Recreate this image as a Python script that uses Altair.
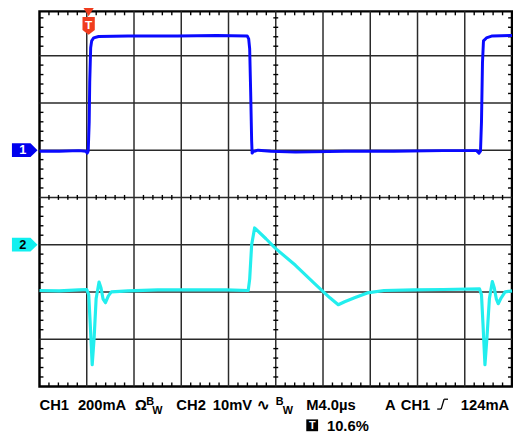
import altair as alt
import pandas as pd

# ---------------- data (screen divisions: x 0..10 left->right, y 0..8 bottom->top)
ch1_x = [0.0, 0.417, 0.833, 0.979, 1.010, 1.031, 1.052, 1.063, 1.083, 1.104, 1.146, 1.25,
         1.875, 2.917, 3.75, 4.396, 4.427, 4.448, 4.469, 4.49, 4.5, 4.521, 4.625, 4.896,
         5.417, 6.458, 7.5, 8.542, 9.25, 9.302, 9.333, 9.354, 9.375, 9.396, 9.458, 9.583, 10.0]
ch1_y = [4.979, 4.979, 4.99, 4.979, 4.938, 4.979, 5.604, 6.438, 7.167, 7.313, 7.375, 7.406,
         7.417, 7.417, 7.427, 7.417, 7.354, 7.146, 6.229, 5.188, 4.938, 4.969, 5.0, 4.979,
         4.958, 4.979, 4.979, 4.99, 4.99, 4.938, 4.979, 5.604, 6.854, 7.313, 7.375, 7.417, 7.427]

ch2_x = [0.0, 0.417, 0.833, 1.0, 1.042, 1.073, 1.115, 1.156, 1.198, 1.26, 1.302, 1.344,
         1.396, 1.458, 1.521, 1.875, 2.5, 3.333, 3.958, 4.417, 4.448, 4.49, 4.552, 4.792,
         5.0, 5.417, 5.833, 6.146, 6.323, 6.458, 6.667, 6.938, 7.292, 7.917, 8.542, 9.313,
         9.354, 9.385, 9.427, 9.469, 9.521, 9.583, 9.625, 9.667, 9.708, 9.771, 9.854, 10.0]
ch2_y = [2.031, 2.021, 2.042, 2.052, 1.938, 1.333, 0.458, 1.021, 1.854, 2.208, 2.083, 1.854,
         1.771, 1.917, 2.0, 2.021, 2.042, 2.042, 2.042, 2.031, 2.271, 3.0, 3.354, 3.125,
         2.917, 2.563, 2.167, 1.875, 1.729, 1.792, 1.875, 1.979, 2.031, 2.042, 2.052, 2.063,
         1.938, 1.333, 0.458, 1.021, 1.854, 2.219, 2.083, 1.854, 1.75, 1.875, 2.0, 2.021]

CH1_GROUND = 5.0
CH2_GROUND = 3.0
TRIGGER_POS = 1.04

W, H = 480, 381
YTOP = 7.9375          # visible top of the graticule (page margin trims a few px)
FONT = "Liberation Sans"
BLUE = "#0a0aff"
CYAN = "#22eeee"
RED = "#f03c1e"
GRID = "#2a2a2a"

xs = alt.Scale(domain=[0, 10], nice=False, zero=False)
ys = alt.Scale(domain=[0, YTOP], nice=False, zero=False)

one = pd.DataFrame({"a": [0]})

# ---------------- grid
vgrid = alt.Chart(pd.DataFrame({"x": list(range(1, 10))})).mark_rule(
    color=GRID, strokeWidth=1.5).encode(x=alt.X("x:Q", scale=xs, axis=None))
hgrid = alt.Chart(pd.DataFrame({"y": list(range(1, 8))})).mark_rule(
    color=GRID, strokeWidth=1.5).encode(y=alt.Y("y:Q", scale=ys, axis=None))

minor_x = pd.DataFrame({"x": [k * 0.2 for k in range(1, 50) if k % 5]})
minor_y = pd.DataFrame({"y": [k * 0.2 for k in range(1, 40) if k % 5]})
cy = H * (1 - 4 / YTOP)
cx = W / 2


def xticks(y0, y1):
    return alt.Chart(minor_x).mark_rule(color="black", strokeWidth=1.4).encode(
        x=alt.X("x:Q", scale=xs, axis=None), y=alt.value(y0), y2=alt.value(y1))


def yticks(x0, x1):
    return alt.Chart(minor_y).mark_rule(color="black", strokeWidth=1.4).encode(
        y=alt.Y("y:Q", scale=ys, axis=None), x=alt.value(x0), x2=alt.value(x1))


ticks = [xticks(0, 4), xticks(H - 4, H), xticks(cy - 2.5, cy + 2.5),
         yticks(0, 4), yticks(W - 4, W), yticks(cx - 2.5, cx + 2.5)]

# ---------------- traces
d1 = pd.DataFrame({"x": ch1_x, "y": ch1_y, "i": range(len(ch1_x))})
d2 = pd.DataFrame({"x": ch2_x, "y": ch2_y, "i": range(len(ch2_x))})
tr1 = alt.Chart(d1).mark_line(color=BLUE, strokeWidth=3, strokeJoin="round").encode(
    x=alt.X("x:Q", scale=xs, axis=None), y=alt.Y("y:Q", scale=ys, axis=None), order="i:Q")
tr2 = alt.Chart(d2).mark_line(color=CYAN, strokeWidth=3.2, strokeJoin="round").encode(
    x=alt.X("x:Q", scale=xs, axis=None), y=alt.Y("y:Q", scale=ys, axis=None), order="i:Q")

# ---------------- channel markers
ARROW = "M-1,-0.54 L0.45,-0.54 L1,0 L0.45,0.54 L-1,0.54 Z"
gnd = pd.DataFrame({"g": [CH1_GROUND, CH2_GROUND], "lab": ["1", "2"]})
m1 = alt.Chart(gnd.iloc[[0]]).mark_point(shape=ARROW, size=676, filled=True, fill="#0000ee",
                                         strokeWidth=0, opacity=1).encode(
    x=alt.value(-15), y=alt.Y("g:Q", scale=ys, axis=None))
m2 = alt.Chart(gnd.iloc[[1]]).mark_point(shape=ARROW, size=676, filled=True, fill="#11f0f0",
                                         strokeWidth=0, opacity=1).encode(
    x=alt.value(-15), y=alt.Y("g:Q", scale=ys, axis=None))
t1 = alt.Chart(gnd.iloc[[0]]).mark_text(font=FONT, fontWeight="bold", fontSize=13, color="white",
                                        baseline="middle", dx=-2).encode(
    x=alt.value(-15), y=alt.Y("g:Q", scale=ys, axis=None), text="lab:N")
t2 = alt.Chart(gnd.iloc[[1]]).mark_text(font=FONT, fontWeight="bold", fontSize=13, color="black",
                                        baseline="middle", dx=-2).encode(
    x=alt.value(-15), y=alt.Y("g:Q", scale=ys, axis=None), text="lab:N")

# ---------------- trigger marker
trig = pd.DataFrame({"x": [TRIGGER_POS], "lab": ["T"]})
tri = alt.Chart(trig).mark_point(shape="M-1,-0.8 L1,-0.8 L0,0.8 Z", size=121, filled=True,
                                 fill=RED, strokeWidth=0, opacity=1).encode(
    x=alt.X("x:Q", scale=xs, axis=None), y=alt.value(0.5))
tbox = alt.Chart(trig).mark_point(shape="M-1,-1 L1,-1 L1,1.1 L0,1.9 L-1,1.1 Z", size=156,
                                  filled=True, fill=RED, strokeWidth=0, opacity=1).encode(
    x=alt.X("x:Q", scale=xs, axis=None), y=alt.value(12))
ttxt = alt.Chart(trig).mark_text(font=FONT, fontWeight="bold", fontSize=12, color="white",
                                 baseline="middle").encode(
    x=alt.X("x:Q", scale=xs, axis=None), y=alt.value(13.5), text="lab:N")

# ---------------- status text
L1, L2 = 404.5, 426
SUP, SUB = 399.5, 409
FS = 15
labels = [
    ("CH1", 0, L1, FS), ("200mA", 39, L1, FS), ("Ω", 97, L1, FS),
    ("B", 108.5, SUP, 11), ("W", 114.5, SUB, 11),
    ("CH2", 139, L1, FS), ("10mV", 176, L1, FS), ("∿", 221, L1, FS),
    ("B", 240, SUP, 11), ("W", 247, SUB, 11),
    ("M4.0µs", 271, L1, FS), ("A", 351, L1, FS), ("CH1", 367, L1, FS),
    ("124mA", 428, L1, FS), ("10.6%", 292, L2, FS),
]
texts = [alt.Chart(one).mark_text(font=FONT, fontWeight="bold", fontSize=fs, align="left",
                                  baseline="alphabetic", color="black").encode(
    x=alt.value(x), y=alt.value(y), text=alt.value(t)) for t, x, y, fs in labels]

# rising-edge glyph
EX = 404
edge = [
    alt.Chart(one).mark_rule(color="black", strokeWidth=1.3).encode(
        x=alt.value(EX), x2=alt.value(EX + 4), y=alt.value(404), y2=alt.value(404)),
    alt.Chart(one).mark_rule(color="black", strokeWidth=1.3).encode(
        x=alt.value(EX + 4), x2=alt.value(EX + 7), y=alt.value(404), y2=alt.value(394)),
    alt.Chart(one).mark_rule(color="black", strokeWidth=1.3).encode(
        x=alt.value(EX + 7), x2=alt.value(EX + 11), y=alt.value(394), y2=alt.value(394)),
]
# trigger-level box glyph
tsq = alt.Chart(one).mark_square(size=144, color="black", opacity=1).encode(
    x=alt.value(277), y=alt.value(420.5))
tsq_t = alt.Chart(one).mark_text(font=FONT, fontWeight="bold", fontSize=11, color="white",
                                 baseline="middle").encode(
    x=alt.value(277), y=alt.value(421), text=alt.value("T"))

chart = alt.layer(vgrid, hgrid, *ticks, tr1, tr2, m1, m2, t1, t2, tri, tbox, ttxt,
                  *texts, *edge, tsq, tsq_t).properties(
    width=W, height=H,
    autosize=alt.AutoSizeParams(type="none"),
    padding={"left": 32, "top": 0, "right": 1, "bottom": 50},
    background="white",
).configure_view(stroke="black", strokeWidth=2.5)

chart.save("out.html", embed_options={"renderer": "svg", "actions": False})
